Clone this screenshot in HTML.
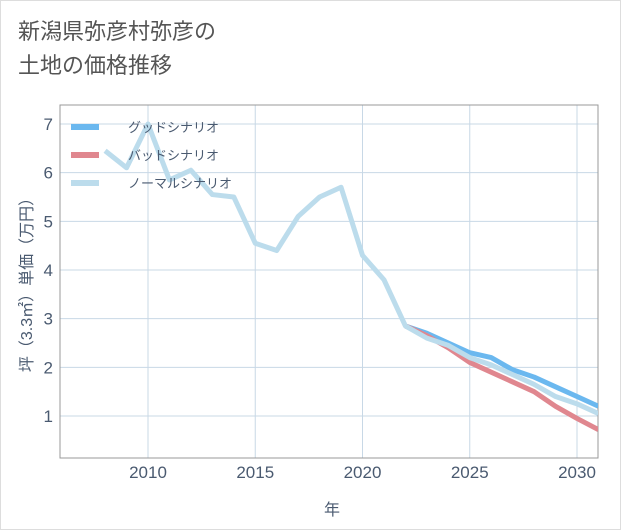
<!DOCTYPE html>
<html><head><meta charset="utf-8"><style>
body{margin:0;background:#fff;font-family:"Liberation Sans","Noto Sans CJK JP",sans-serif;}
.card{position:absolute;left:0;top:0;width:619px;height:528px;border:1px solid #ddd;background:#fff;}
.title{position:absolute;left:17px;top:14px;font-size:22px;line-height:34px;color:#555;}
</style></head><body>
<div class="card">
<div class="title">新潟県弥彦村弥彦の<br>土地の価格推移</div>
<svg id="c" width="621" height="530" style="position:absolute;left:0;top:0"></svg>
</div>
<script>
const years=[2008,2009,2010,2011,2012,2013,2014,2015,2016,2017,2018,2019,2020,2021,2022,2023,2024,2025,2026,2027,2028,2029,2030,2031];
const normal=[6.45,6.1,7.0,5.85,6.05,5.55,5.5,4.55,4.4,5.1,5.5,5.7,4.3,3.8,2.85,2.6,2.45,2.2,2.05,1.85,1.65,1.4,1.25,1.05];
const fYears=[2022,2023,2024,2025,2026,2027,2028,2029,2030,2031];
const good=[2.85,2.7,2.5,2.3,2.2,1.95,1.8,1.6,1.4,1.2];
const bad=[2.85,2.65,2.4,2.1,1.9,1.7,1.5,1.2,0.95,0.72];
const xTicks=[2010,2015,2020,2025,2030];
const yTicks=[1,2,3,4,5,6,7];
const L=59,R=597,T=104,B=457;
const X=v=>147+(v-2010)*21.45;
const Y=v=>415-(v-1)*48.67;
const svg=document.getElementById('c');
const NS='http://www.w3.org/2000/svg';
function mk(t,a,p){const e=document.createElementNS(NS,t);for(const k in a)e.setAttribute(k,a[k]);(p||svg).appendChild(e);return e;}
const cp=mk('clipPath',{id:'cp'});mk('rect',{x:L,y:T,width:R-L,height:B-T},cp);
xTicks.forEach(t=>{const l=mk('line',{x1:X(t),x2:X(t),y1:T,y2:B,stroke:'#c8d8e6','stroke-width':1});

const tx=mk('text',{x:X(t),y:477,'text-anchor':'middle','font-size':17,fill:'#4a5a70'});tx.textContent=t;
});
yTicks.forEach(t=>{const l=mk('line',{x1:L,x2:R,y1:Y(t),y2:Y(t),stroke:'#c8d8e6','stroke-width':1});

const tx=mk('text',{x:52,y:Y(t)+6,'text-anchor':'end','font-size':17,fill:'#4a5a70'});tx.textContent=t;
});
const fr=mk('rect',{x:L,y:T,width:R-L,height:B-T,fill:'none',stroke:'#999','stroke-width':1});

function line(xs,ys,col,name){const p=mk('polyline',{points:xs.map((x,i)=>X(x)+','+Y(ys[i])).join(' '),fill:'none',stroke:col,'stroke-width':5,'stroke-linejoin':'round','clip-path':'url(#cp)'});
}
line(fYears,good,'#6bb8ef','good-scenario-line');
line(fYears,bad,'#e0878f','bad-scenario-line');
line(years,normal,'#bcdcec','normal-scenario-line');
const leg=[['グッドシナリオ','#6bb8ef'],['バッドシナリオ','#e0878f'],['ノーマルシナリオ','#bcdcec']];
leg.forEach((d,i)=>{const y=126+i*28;
const l=mk('line',{x1:70,x2:98,y1:y,y2:y,stroke:d[1],'stroke-width':6});

const t=mk('text',{x:127,y:y+5,'font-size':13,fill:'#4a5a70'});t.textContent=d[0];
});
const xt=mk('text',{x:331,y:514,'text-anchor':'middle','font-size':16,fill:'#4a5a70'});xt.textContent='年';

const yt=mk('text',{x:0,y:0,'text-anchor':'middle','font-size':16,fill:'#4a5a70',transform:'translate(31,280) rotate(-90)'});yt.textContent='坪（3.3㎡）単価（万円）';

</script>
</body></html>
